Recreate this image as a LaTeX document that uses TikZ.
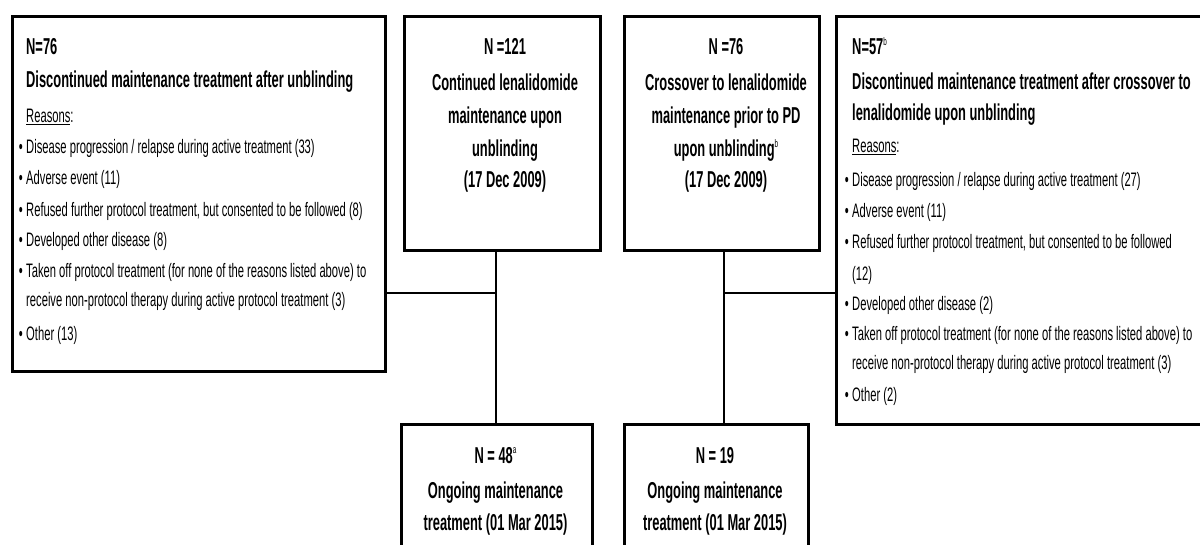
\documentclass[tikz,border=0pt]{standalone}
\usepackage{fontspec}
\setmainfont{Liberation Sans}[FakeStretch=0.575, BoldFeatures={FakeStretch=0.56}]
\usetikzlibrary{shadows}
\newcommand{\supmark}[1]{\raisebox{0.42em}{\fontsize{11}{11}\selectfont\mdseries #1}}
\newcommand{\itembullet}{\llap{\textbullet\hspace{3.5pt}}}
\begin{document}
\begin{tikzpicture}[x=1pt,y=-1pt,
  box/.style={draw, line width=2.8pt, fill=white, inner sep=0pt, anchor=north west,
    drop shadow={shadow xshift=1.5pt, shadow yshift=-1.5pt, fill=black, opacity=1}},
  link/.style={line width=1.6pt},
  boldtxt/.style={font=\fontsize{23}{23}\selectfont\bfseries, inner sep=0pt},
  regtxt/.style={font=\fontsize{19.5}{19.5}\selectfont, inner sep=0pt}]
\useasboundingbox (0,0) rectangle (1200,545);

% boxes
\node[box, minimum width=373, minimum height=355] (L) at (11,15) {};
\node[box, minimum width=196, minimum height=234] (C1) at (403,15) {};
\node[box, minimum width=195, minimum height=234] (C2) at (623,15) {};
\node[box, minimum width=385, minimum height=408] (R) at (835,15) {};
\node[box, minimum width=191, minimum height=150] (B1) at (400,423) {};
\node[box, minimum width=184, minimum height=150] (B2) at (623,423) {};

% connectors
\coordinate (j1) at (496,293);
\coordinate (j2) at (724,293);
\draw[link] (C1.south -| j1) -- (B1.north -| j1);
\draw[link] (L.east |- j1) -- (j1);
\draw[link] (C2.south -| j2) -- (B2.north -| j2);
\draw[link] (j2) -- (R.west |- j2);

% left box text
\node[boldtxt, anchor=base west] (Ln) at (26,55) {N=76};
\node[boldtxt, anchor=base west] (Lt) at (26,88) {Discontinued maintenance treatment after unblinding};
\node[regtxt, anchor=base west] (Lr) at (26,122.5) {\underline{Reasons}:};
\foreach \yy/\txt [count=\i] in {
  154/{\itembullet Disease progression / relapse during active treatment (33)},
  185/{\itembullet Adverse event (11)},
  217/{\itembullet Refused further protocol treatment, but consented to be followed (8)},
  247/{\itembullet Developed other disease (8)},
  278/{\itembullet Taken off protocol treatment (for none of the reasons listed above) to},
  307/{receive non-protocol therapy during active protocol treatment (3)},
  341/{\itembullet Other (13)}}
  \node[regtxt, anchor=base west] (La\i) at (26,\yy) {\txt};

% middle boxes text
\foreach \yy/\txt [count=\i] in {
  55/{N =121}, 90.5/{Continued lenalidomide}, 124/{maintenance upon},
  157/{unblinding}, 188/{(17 Dec 2009)}}
  \node[boldtxt, anchor=base] (Ca\i) at (505,\yy) {\txt};
\foreach \yy/\txt [count=\i] in {
  55/{N =76}, 90.5/{Crossover to lenalidomide}, 124/{maintenance prior to PD},
  157/{upon unblinding\supmark{b}}, 188/{(17 Dec 2009)}}
  \node[boldtxt, anchor=base] (Cb\i) at (726,\yy) {\txt};

% right box text
\node[boldtxt, anchor=base west] (Rn) at (852,55) {N=57\supmark{b}};
\node[boldtxt, anchor=base west] (Rt1) at (852,90) {Discontinued maintenance treatment after crossover to};
\node[boldtxt, anchor=base west] (Rt2) at (852,121) {lenalidomide upon unblinding};
\node[regtxt, anchor=base west] (Rr) at (852,153) {\underline{Reasons}:};
\foreach \yy/\txt [count=\i] in {
  187/{\itembullet Disease progression / relapse during active treatment (27)},
  218/{\itembullet Adverse event (11)},
  249/{\itembullet Refused further protocol treatment, but consented to be followed},
  281/{(12)},
  311/{\itembullet Developed other disease (2)},
  341/{\itembullet Taken off protocol treatment (for none of the reasons listed above) to},
  370/{receive non-protocol therapy during active protocol treatment (3)},
  401/{\itembullet Other (2)}}
  \node[regtxt, anchor=base west] (Ra\i) at (852,\yy) {\txt};

% bottom boxes text
\foreach \yy/\txt [count=\i] in {
  463/{N = 48\supmark{a}}, 498/{Ongoing maintenance}, 530/{treatment (01 Mar 2015)}}
  \node[boldtxt, anchor=base] (Ba\i) at (495.5,\yy) {\txt};
\foreach \yy/\txt [count=\i] in {
  463/{N = 19}, 498/{Ongoing maintenance}, 530/{treatment (01 Mar 2015)}}
  \node[boldtxt, anchor=base] (Bb\i) at (715,\yy) {\txt};
\end{tikzpicture}
\end{document}
